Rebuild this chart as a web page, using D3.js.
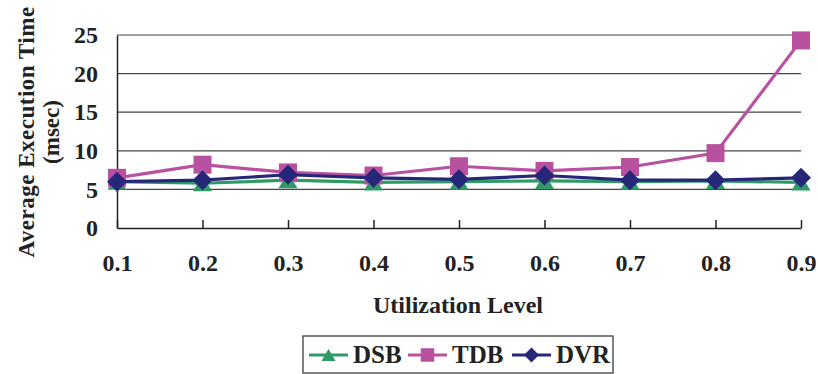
<!DOCTYPE html>
<html>
<head>
<meta charset="utf-8">
<title>Average Execution Time vs Utilization Level</title>
<script src="https://d3js.org/d3.v7.min.js"></script>
<style>
  body { margin: 0; background: #fff; }
  text { font-family: "Liberation Serif", "Times New Roman", serif; font-weight: bold; fill: #222; }
</style>
</head>
<body>
<div id="chart"></div>
<script>
// values
var levels = [0.1, 0.2, 0.3, 0.4, 0.5, 0.6, 0.7, 0.8, 0.9];
var dsb = [6.0, 5.8, 6.2, 5.9, 6.0, 6.1, 6.0, 6.1, 5.9];
var tdb = [6.5, 8.2, 7.2, 6.8, 8.0, 7.4, 7.9, 9.7, 24.3];
var dvr = [6.0, 6.2, 6.9, 6.5, 6.3, 6.8, 6.2, 6.2, 6.5];
var seriesNames = ["DSB", "TDB", "DVR"];
var yTicks = [0, 5, 10, 15, 20, 25];
var xTickLabels = ["0.1", "0.2", "0.3", "0.4", "0.5", "0.6", "0.7", "0.8", "0.9"];

var W = 818, H = 374;
var plotL = 117, plotR = 801, plotT = 35, plotB = 228;

var colors = { DSB: "#2e9a66", TDB: "#b8519f", DVR: "#27277a" };

var svg = d3.select("#chart").append("svg")
    .attr("width", W).attr("height", H);

var x = d3.scaleLinear().domain([0.1, 0.9]).range([plotL, plotR]);
var y = d3.scaleLinear().domain([0, 25]).range([plotB, plotT]);

/* marker shapes, bounding box centred on the point */
function marker(name, s) {
  if (name == "DSB") {
    var w = 19 * s, h = 16 * s;
    return "M0," + (-h / 2) + "L" + (w / 2) + "," + (h / 2) + "L" + (-w / 2) + "," + (h / 2) + "Z";
  }
  if (name == "TDB") {
    var a = 9 * s;
    return "M" + (-a) + "," + (-a) + "H" + a + "V" + a + "H" + (-a) + "Z";
  }
  var d = 10 * s;
  return "M0," + (-d) + "L" + d + ",0L0," + d + "L" + (-d) + ",0Z";
}

// grid lines
svg.append("g").selectAll("line")
  .data(yTicks.filter(function(t) { return t > 0; }))
  .join("line")
  .attr("x1", plotL).attr("x2", plotR)
  .attr("y1", function(d) { return y(d); })
  .attr("y2", function(d) { return y(d); })
  .attr("stroke", "#444").attr("stroke-width", 1.2);

// y axis
var yAxis = svg.append("g")
  .attr("transform", "translate(" + plotL + ",0)")
  .call(d3.axisLeft(y).tickValues(yTicks).tickSize(0).tickPadding(19));
yAxis.attr("font-size", null).attr("font-family", null);
yAxis.select(".domain").attr("stroke", "#222").attr("stroke-width", 1.5);
yAxis.selectAll("text").attr("font-size", 24).attr("fill", "#222");

// x axis, ticks pointing up into the plot
var xAxis = svg.append("g")
  .attr("transform", "translate(0," + plotB + ")")
  .call(d3.axisBottom(x).tickValues(levels).tickFormat(function(d, i) { return xTickLabels[i]; })
    .tickSizeInner(-8).tickSizeOuter(0).tickPadding(26));
xAxis.attr("font-size", null).attr("font-family", null);
xAxis.select(".domain").attr("stroke", "#222").attr("stroke-width", 1.5);
xAxis.selectAll(".tick line").attr("stroke", "#222").attr("stroke-width", 1.5);
xAxis.selectAll("text").attr("font-size", 24).attr("fill", "#222");

// series
var allData = [dsb, tdb, dvr];
var line = d3.line()
  .x(function(d, i) { return x(levels[i]); })
  .y(function(d) { return y(d); });

seriesNames.forEach(function(name, k) {
  var vals = allData[k];
  var g = svg.append("g");
  g.append("path")
    .attr("d", line(vals))
    .attr("fill", "none")
    .attr("stroke", colors[name])
    .attr("stroke-width", 3.2);
  g.selectAll("path.m")
    .data(vals)
    .join("path")
    .attr("class", "m")
    .attr("d", marker(name, 1))
    .attr("transform", function(d, i) { return "translate(" + x(levels[i]) + "," + y(d) + ")"; })
    .attr("fill", colors[name]);
});

// axis titles
svg.append("text")
  .attr("x", 458).attr("y", 313)
  .attr("text-anchor", "middle")
  .attr("font-size", 24)
  .text("Utilization Level");

svg.append("text")
  .attr("transform", "translate(34,132) rotate(-90)")
  .attr("text-anchor", "middle")
  .attr("font-size", 23)
  .attr("letter-spacing", 0.5)
  .text("Average Execution Time");
svg.append("text")
  .attr("transform", "translate(59,132) rotate(-90)")
  .attr("text-anchor", "middle")
  .attr("font-size", 23)
  .text("(msec)");

// legend
var legend = svg.append("g");
legend.append("rect")
  .attr("x", 303).attr("y", 336).attr("width", 310).attr("height", 37)
  .attr("fill", "#fff").attr("stroke", "#555").attr("stroke-width", 1.5);

var legX = [309, 408, 512];
var item = legend.selectAll("g.item")
  .data(seriesNames)
  .join("g")
  .attr("class", "item")
  .attr("transform", function(d, i) { return "translate(" + legX[i] + ",355)"; });
item.append("line")
  .attr("x1", 0).attr("x2", 39)
  .attr("stroke", function(d) { return colors[d]; })
  .attr("stroke-width", 3.2);
item.append("path")
  .attr("d", function(d) { return marker(d, 0.75); })
  .attr("transform", "translate(19.5,0)")
  .attr("fill", function(d) { return colors[d]; });
item.append("text")
  .attr("x", 44).attr("y", 8)
  .attr("font-size", 25)
  .text(function(d) { return d; });
</script>
</body>
</html>
